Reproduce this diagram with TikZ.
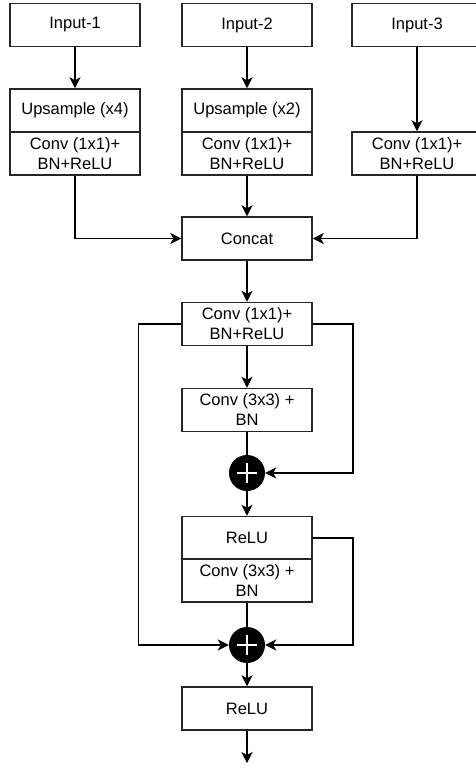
\documentclass[tikz,border=0pt]{standalone}
\usepackage{fontspec}
\setmainfont{Liberation Sans}
\usetikzlibrary{graphs,arrows.meta}

\begin{document}
\begin{tikzpicture}[x=1pt,y=-1pt,new set=import nodes,
  >={Stealth[length=11pt,width=11pt,inset=3pt]},
  box/.style={draw=black!85,line width=1.5pt,minimum width=130pt,minimum height=43pt,
    inner sep=2pt,align=center,font=\fontsize{16.5}{20}\selectfont},
  addop/.style={circle,fill=black,minimum size=36pt,inner sep=0pt,
    path picture={\draw[white,line width=2pt]
      ([xshift=-10pt]path picture bounding box.center) -- ++(20pt,0pt)
      ([yshift=-10pt]path picture bounding box.center) -- ++(0pt,20pt);}},
  hv/.style={to path={|- (\tikztotarget) \tikztonodes}}]
\useasboundingbox (0,0) rectangle (476,774);
\begin{scope}[nodes={set=import nodes}] % all blocks go into this set
\node [box] (in1) at (75,25) {Input-1};
\node [box] (in2) at (247,25) {Input-2};
\node [box] (in3) at (417,25) {Input-3};
\node [box] (up1) at (75,110.5) {Upsample (x4)};
\node [box] (cv1) at (75,153.5) {Conv (1x1)+\\BN+ReLU};
\node [box] (up2) at (247,110.5) {Upsample (x2)};
\node [box] (cv2) at (247,153.5) {Conv (1x1)+\\BN+ReLU};
\node [box] (cv3) at (417,153.5) {Conv (1x1)+\\BN+ReLU};
\node [box] (cat) at (247,238.5) {Concat};
\node [box] (c11) at (247,324) {Conv (1x1)+\\BN+ReLU};
\node [box] (c33) at (247,410) {Conv (3x3) +\\BN};
\node [addop] (add1) at (247,473) {};
\node [box] (relu1) at (247,538) {ReLU};
\node [box] (c33b) at (247,580.5) {Conv (3x3) +\\BN};
\node [addop] (add2) at (247,645) {};
\node [box] (relu2) at (247,708.5) {ReLU};
\end{scope}
\coordinate (out) at (247,763);
\graph [edges={line width=1.5pt}]
{ (import nodes);
in1 -> up1; in2 -> up2; in3 -> cv3;
cv1 -> [hv] cat; cv2 -> cat; cv3 -> [hv] cat;
cat -> c11 -> c33 -- add1 -> relu1;
c33b -- add2 -> relu2;
 };
% skip connections round the residual blocks
\draw [->,line width=1.5pt] (c11.east) -- ++(40,0) |- (add1);
\draw [->,line width=1.5pt] (c11.west) -- ++(-43,0) |- (add2);
\draw [->,line width=1.5pt] (relu1.east) -- ++(40,0) |- (add2);
\draw [->,line width=1.5pt] (relu2) -- (out);
\end{tikzpicture}
\end{document}
